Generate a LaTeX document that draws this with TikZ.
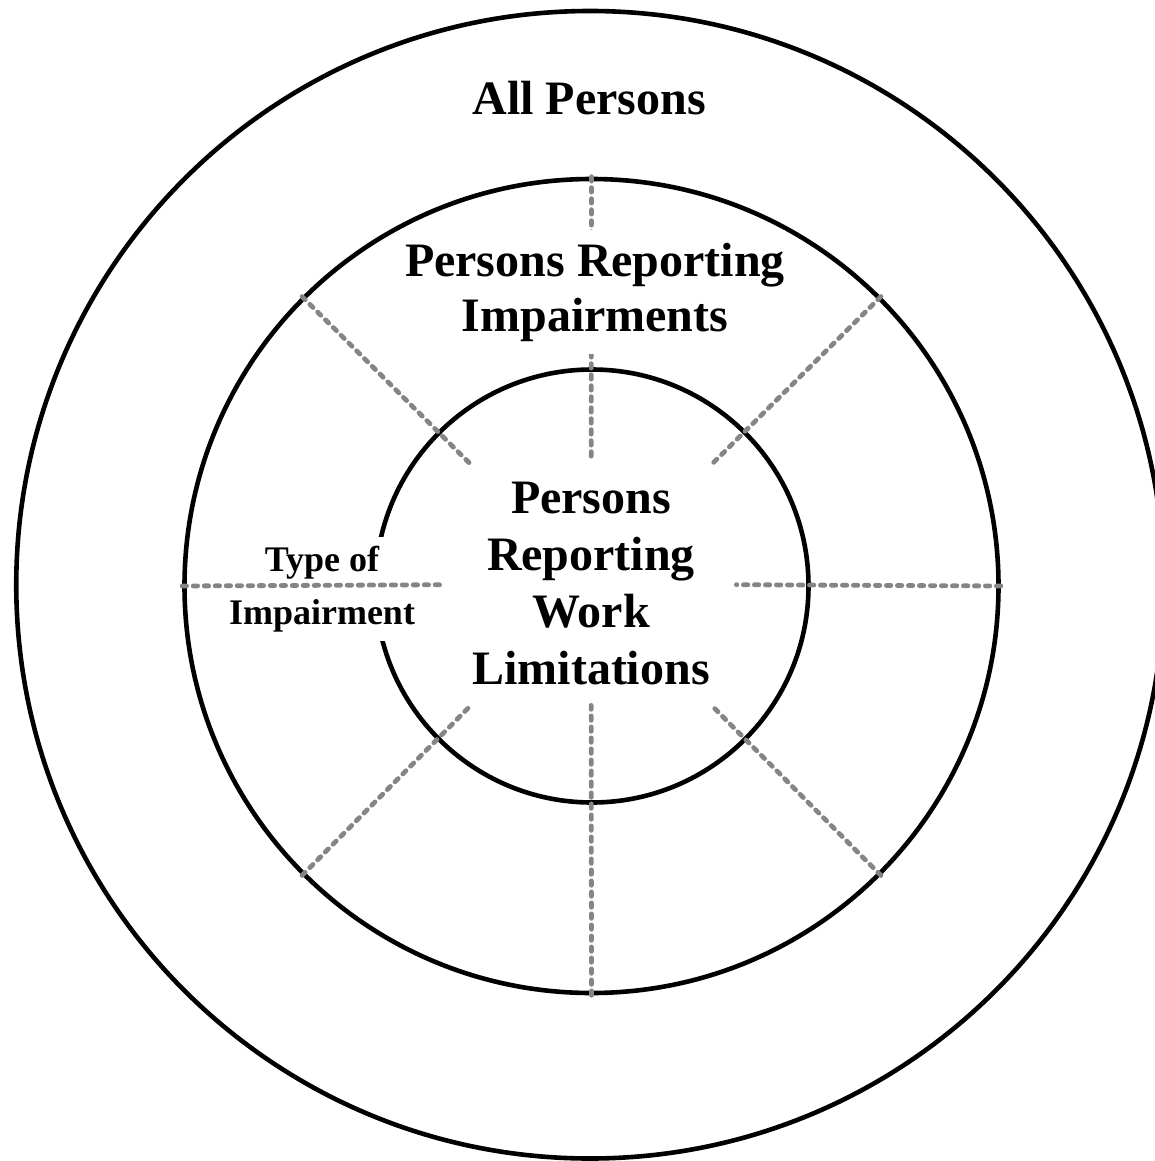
\documentclass[tikz,border=0pt]{standalone}
\usepackage{fontspec}
\setmainfont{Liberation Serif}
\tikzset{
  ring/.style={circle, draw=black, line width=2.3pt, inner sep=0pt},
  spoke/.style={draw=black!48, line width=2.4pt, line cap=round, dash pattern=on 2.2pt off 3.3pt},
  mask/.style={fill=white},
  bigfont/.style={font=\bfseries\fontsize{24}{27.5}\selectfont, align=center},
  corefont/.style={font=\bfseries\fontsize{24}{28.5}\selectfont, align=center},
  smallfont/.style={font=\bfseries\fontsize{18}{26.5}\selectfont, align=center}
}
\begin{document}
\begin{tikzpicture}[x=0.5pt,y=-0.5pt]
\useasboundingbox (0,0) rectangle (1155,1161);
\clip (0,0) rectangle (1155,1161);
% rings
\node[ring, minimum size=573.75pt] (outer) at (590,584.75) {};
\node[ring, minimum size=407pt] (middle) at (591.5,586) {};
\node[ring, minimum size=216.5pt] (inner) at (592,586) {};
% centre label
\node[mask, corefont, minimum width=145pt, minimum height=121pt, inner sep=0pt] (core) at (591,584) {Persons\\Reporting\\Work\\Limitations};
% spokes
\foreach \a in {0,45,90,135,225,270,315}
  \draw[spoke] (middle.\a) -- (core);
% labels
\node[bigfont, anchor=base] (all) at (589,114) {All Persons};
\node[mask, bigfont, inner xsep=0pt, inner ysep=6.5pt] (impair) at (595,292) {Persons Reporting\\Impairments};
\node[mask, smallfont, inner xsep=2pt, inner ysep=4.5pt] (type) at (322,589) {Type of\\Impairment};
\draw[spoke] (middle.180) -- (core);
\end{tikzpicture}
\end{document}
